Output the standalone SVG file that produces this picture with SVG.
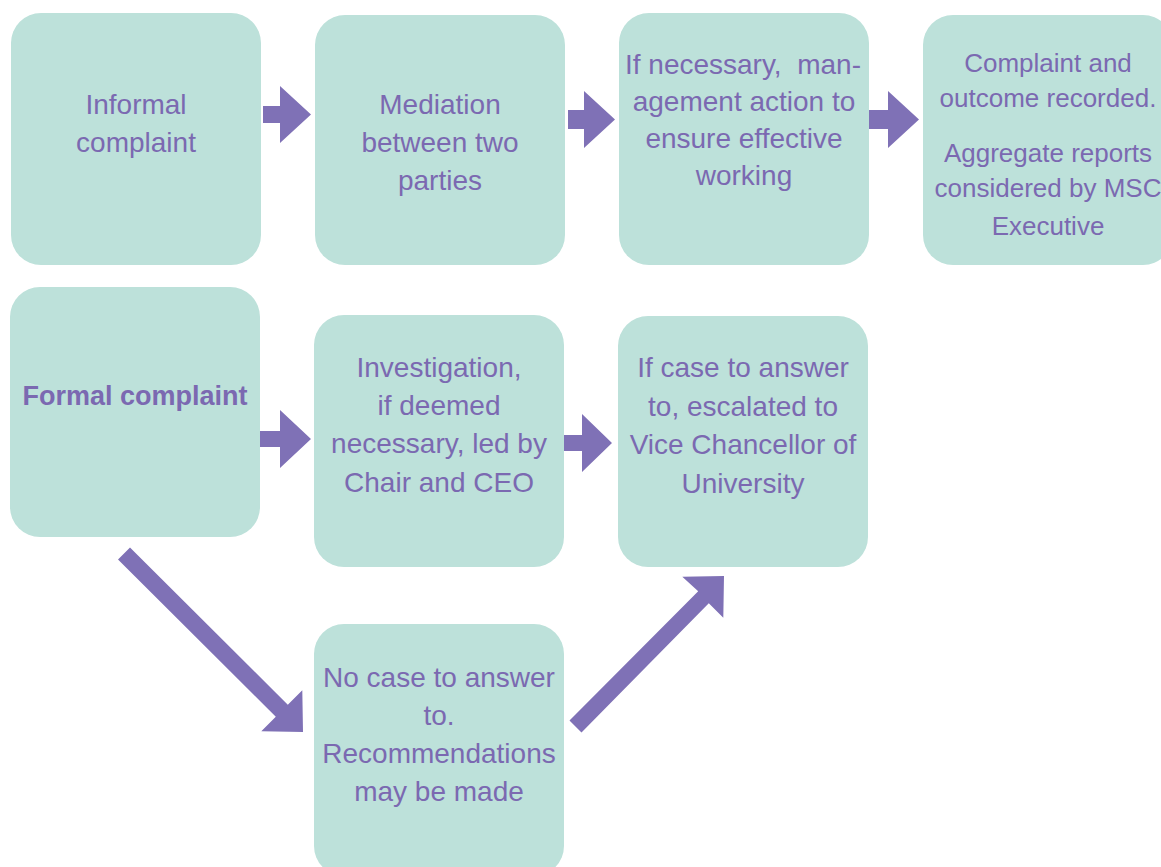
<svg xmlns="http://www.w3.org/2000/svg" width="1161" height="867" viewBox="0 0 1161 867">
  <style>
    .box { fill: #bde1da; }
    .label { font-family: "Liberation Sans", Arial, sans-serif; font-size: 28px; fill: #7b69b1; text-anchor: middle; }
    .small { font-size: 26px; }
    .bold { font-weight: bold; font-size: 27px; }
    .arrow { fill: #7f71b6; }
  </style>
  <rect width="1161" height="867" fill="#ffffff"/>

  <!-- informal route -->
  <g id="informal">
    <rect class="box" x="11" y="13" width="250" height="252" rx="30"/>
    <text class="label" x="136" y="114">Informal</text>
    <text class="label" x="136" y="152">complaint</text>
  </g>
  <g id="mediation">
    <rect class="box" x="315" y="15" width="250" height="250" rx="30"/>
    <text class="label" x="440" y="114">Mediation</text>
    <text class="label" x="440" y="152">between two</text>
    <text class="label" x="440" y="190">parties</text>
  </g>
  <g id="management">
    <rect class="box" x="619" y="13" width="250" height="252" rx="30"/>
    <text class="label" x="743" y="74" style="white-space:pre">If necessary,  man-</text>
    <text class="label" x="744" y="111">agement action to</text>
    <text class="label" x="744" y="148">ensure effective</text>
    <text class="label" x="744" y="185">working</text>
  </g>
  <g id="recorded">
    <rect class="box" x="923" y="15" width="250" height="250" rx="30"/>
    <text class="label small" x="1048" y="72">Complaint and</text>
    <text class="label small" x="1048" y="107">outcome recorded.</text>
    <text class="label small" x="1048" y="162">Aggregate reports</text>
    <text class="label small" x="1048" y="197">considered by MSC</text>
    <text class="label small" x="1048" y="235">Executive</text>
  </g>

  <!-- formal route -->
  <g id="formal">
    <rect class="box" x="10" y="287" width="250" height="250" rx="30"/>
    <text class="label bold" x="135" y="405">Formal complaint</text>
  </g>
  <g id="investigation">
    <rect class="box" x="314" y="315" width="250" height="252" rx="30"/>
    <text class="label" x="439" y="377">Investigation,</text>
    <text class="label" x="439" y="415">if deemed</text>
    <text class="label" x="439" y="453">necessary, led by</text>
    <text class="label" x="439" y="492">Chair and CEO</text>
  </g>
  <g id="escalated">
    <rect class="box" x="618" y="316" width="250" height="251" rx="30"/>
    <text class="label" x="743" y="377">If case to answer</text>
    <text class="label" x="743" y="416">to, escalated to</text>
    <text class="label" x="743" y="454">Vice Chancellor of</text>
    <text class="label" x="743" y="493">University</text>
  </g>
  <g id="no-case">
    <rect class="box" x="314" y="624" width="250" height="252" rx="30"/>
    <text class="label" x="439" y="687">No case to answer</text>
    <text class="label" x="439" y="725">to.</text>
    <text class="label" x="439" y="763">Recommendations</text>
    <text class="label" x="439" y="801">may be made</text>
  </g>

  <!-- block arrows between steps -->
  <g id="connectors">
    <path class="arrow" d="M263,106 H280 V86 L311,114.5 L280,143 V123 H263 Z"/>
    <path class="arrow" d="M568,110 H584 V91 L615,119.5 L584,148 V129 H568 Z"/>
    <path class="arrow" d="M869,110 H888 V91 L919,119.5 L888,148 V129 H869 Z"/>
    <path class="arrow" d="M260,431 H280 V410 L311,439 L280,468 V447 H260 Z"/>
    <path class="arrow" d="M564,435 H582 V414 L612,443 L582,472 V451 H564 Z"/>
    <polygon class="arrow" points="130,547.5 287.8,704.8 302.3,690.3 303,732 261.3,731.3 275.8,716.8 118,559.5"/>
    <polygon class="arrow" points="569.5,720.5 698.2,591.2 682.3,576.7 724,576 723.3,617.7 708.8,603.2 581.5,732.5"/>
  </g>
</svg>
